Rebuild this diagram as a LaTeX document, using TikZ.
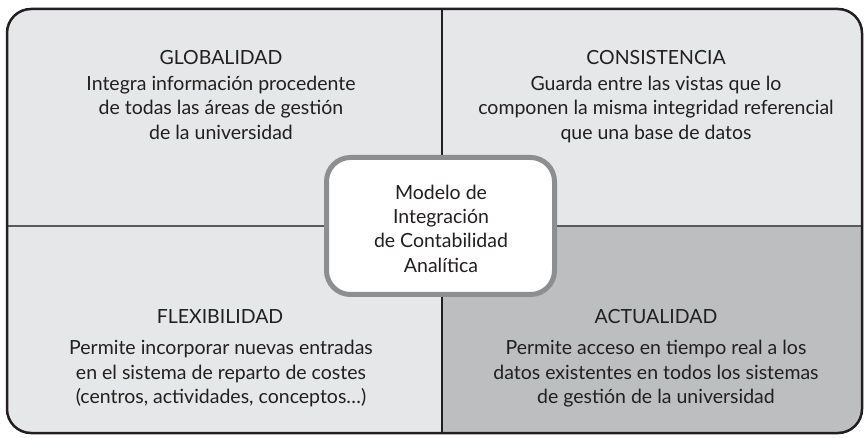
\documentclass[tikz,border=0pt]{standalone}
\usepackage{fontspec}
\setmainfont{Lato}
\definecolor{lightq}{HTML}{E6E7E8}
\definecolor{darkq}{HTML}{BCBEC0}
\definecolor{inkc}{HTML}{231F20}
\definecolor{hdiv}{HTML}{595A5C}
\definecolor{boxrim}{HTML}{8C8E90}
\begin{document}
\begin{tikzpicture}[x=1pt,y=-1pt,
  txt/.style={inner sep=0pt, text=inkc, font=\fontsize{19.5}{24.3}\selectfont},
  titletxt/.style={txt, anchor=base},
  bodytxt/.style={txt, anchor=north, align=center},
  centerbox/.style={draw=boxrim, line width=5pt, fill=white, rounded corners=24pt}]
\useasboundingbox (0,0) rectangle (865,438);
% outer panel
\fill[lightq, rounded corners=24pt] (7,9) rectangle (862,433);
\begin{scope}
  \clip[rounded corners=24pt] (7,9) rectangle (862,433);
  \fill[darkq] (442,226) rectangle (870,440);
\end{scope}
\coordinate (vtop) at (442,9);
\coordinate (vbot) at (442,433);
\coordinate (hleft) at (7,226);
\coordinate (hright) at (862,226);
\draw[hdiv, line width=1.8pt] (hleft) -- (hright);
\draw[inkc, line width=1.3pt] (vtop) -- (vbot);
\draw[inkc, line width=2.5pt, rounded corners=24pt] (7,9) rectangle (862,433);
% center box
\draw[centerbox] (326.5,157.5) rectangle (554.5,294.5);
\node[bodytxt] (model) at (441,184.7) {Modelo de\\Integración\\de Contabilidad\\Analítica};
% quadrant texts
\node[titletxt] (glob) at (221,65) {GLOBALIDAD};
\node[bodytxt] (globtxt) at (221,75.9) {Integra información procedente\\de todas las áreas de gestión\\de la universidad};
\node[titletxt] (cons) at (656,65) {CONSISTENCIA};
\node[bodytxt] (constxt) at (656,75.9) {Guarda entre las vistas que lo\\componen la misma integridad referencial\\que una base de datos};
\node[titletxt] (flex) at (220,324) {FLEXIBILIDAD};
\node[bodytxt] (flextxt) at (221,340.2) {Permite incorporar nuevas entradas\\en el sistema de reparto de costes\\(centros, actividades, conceptos…)};
\node[titletxt] (actu) at (656,324) {ACTUALIDAD};
\node[bodytxt] (actutxt) at (656,340.2) {Permite acceso en tiempo real a los\\datos existentes en todos los sistemas\\de gestión de la universidad};
\end{tikzpicture}
\end{document}
